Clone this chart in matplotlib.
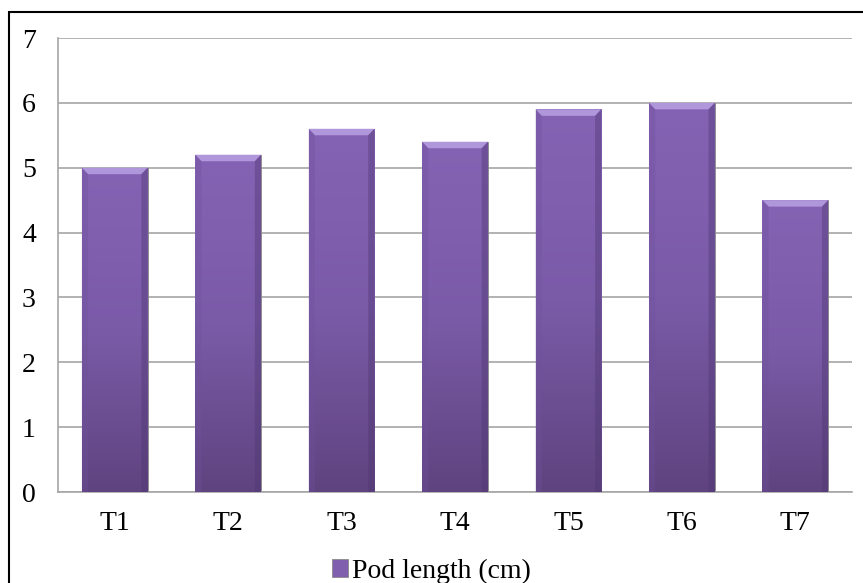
import matplotlib
matplotlib.use("Agg")
import matplotlib.pyplot as plt
import numpy as np
from matplotlib.patches import Rectangle
from matplotlib.colors import LinearSegmentedColormap

# 数据
treatments = ["T1", "T2", "T3", "T4", "T5", "T6", "T7"]
pod_length = [5.0, 5.2, 5.6, 5.4, 5.9, 6.0, 4.5]
y_ticks = [0, 1, 2, 3, 4, 5, 6, 7]

plt.rcParams['font.family'] = ['Liberation Serif', 'DejaVu Serif']

W, H = 863, 583
fig = plt.figure(figsize=(W / 100, H / 100), dpi=100)

# 外框（底部和右侧被裁掉）
fig.patches.append(Rectangle((8.5 / W, -0.05), 1.0, 1 - 12.5 / H + 0.05,
                             transform=fig.transFigure, fill=False,
                             edgecolor="black", linewidth=1.5))

ax = fig.add_axes([58 / W, (H - 492) / H, (852 - 58) / W, (492 - 38) / H])
ax.set_xlim(-0.5, len(treatments) - 0.5)
ax.set_ylim(0, 7)

for s in ["top", "right"]:
    ax.spines[s].set_visible(False)
for s in ["left", "bottom"]:
    ax.spines[s].set_color("#a6a6a6")
    ax.spines[s].set_linewidth(1.2)

ax.set_yticks(y_ticks)
ax.yaxis.grid(True, color="#a6a6a6", linewidth=1.2)
ax.set_axisbelow(True)
ax.tick_params(axis="both", length=0, labelsize=20, colors="black")
ax.tick_params(axis="y", pad=16)
ax.tick_params(axis="x", pad=14)
ax.set_xticks(range(len(treatments)))
ax.set_xticklabels(treatments)

# 柱子：紫色渐变 + 顶部斜面
cmap = LinearSegmentedColormap.from_list("pod", ["#5f437f", "#7a5ba8", "#8563b4"])
grad = np.linspace(0, 1, 256).reshape(-1, 1)
bw = 0.58
bars = ax.bar(range(len(treatments)), pod_length, width=bw,
              color="#7f5fae", edgecolor="#8a8a8a", linewidth=0.6,
              label="Pod length (cm)", zorder=2)
for b, v in zip(bars, pod_length):
    x0 = b.get_x()
    im = ax.imshow(grad, extent=(x0, x0 + bw, 0, v), origin="lower",
                   cmap=cmap, aspect="auto", zorder=3)
    im.set_clip_path(b)
    bev = 0.1
    dx = 0.055
    ax.fill([x0, x0 + bw, x0 + bw - dx, x0 + dx],
            [v, v, v - bev, v - bev], color="#b096da", zorder=4, lw=0)
    ax.fill([x0, x0 + dx, x0 + dx, x0], [v, v - bev, 0, 0],
            color="#6f519c", alpha=0.35, zorder=4, lw=0)
    ax.fill([x0 + bw, x0 + bw - dx, x0 + bw - dx, x0 + bw], [v, v - bev, 0, 0],
            color="#4d3570", alpha=0.4, zorder=4, lw=0)

leg = fig.legend(handles=[bars], labels=["Pod length (cm)"],
                 loc="center", bbox_to_anchor=(0.5, 1 - 571 / H),
                 frameon=False, fontsize=20, handlelength=0.6,
                 handleheight=0.6, handletextpad=0.15)

fig.savefig("out.png", dpi=100)
